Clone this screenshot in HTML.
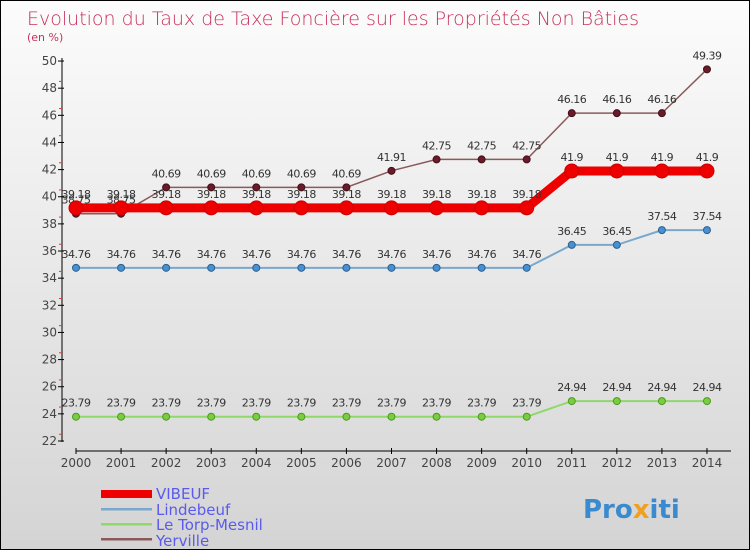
<!DOCTYPE html>
<html><head><meta charset="utf-8"><style>
body{margin:0}
#c{width:748px;height:548px;border:1px solid #000;background:linear-gradient(#fcfcfc,#d4d4d4);position:relative;font-family:"DejaVu Sans","Liberation Sans",sans-serif;overflow:hidden}
</style></head><body>
<div id="c">
<svg id="s" width="748" height="548">
<text x="26" y="24" font-size="19" fill="#c8305a" font-weight="300">Evolution du Taux de Taxe Foncière sur les Propriétés Non Bâties</text>
<text x="26" y="40" font-size="11" fill="#c8305a">(en %)</text>
<g id="axes"></g><g id="marks"></g>
<g>
<rect x="100" y="489" width="51" height="8" fill="#e00"/>
<text x="155" y="498" font-size="15" fill="#5a5aee">VIBEUF</text>
<rect x="100" y="507" width="51" height="2.5" fill="#7aa8cc"/>
<text x="155" y="514" font-size="15" fill="#5a5aee">Lindebeuf</text>
<rect x="100" y="522" width="51" height="2.5" fill="#8fd86a"/>
<text x="155" y="529" font-size="15" fill="#5a5aee">Le Torp-Mesnil</text>
<rect x="100" y="537" width="51" height="2.5" fill="#8a5a5a"/>
<text x="155" y="545" font-size="15" fill="#5a5aee">Yerville</text>
</g>
<text x="582" y="517" font-size="26" font-weight="bold" fill="#3a8ad0">Pro<tspan fill="#f0a020">x</tspan>iti</text>
</svg></div>
<script>
const years=["2000","2001","2002","2003","2004","2005","2006","2007","2008","2009","2010","2011","2012","2013","2014"];
const yTicks=[22,24,26,28,30,32,34,36,38,40,42,44,46,48,50];
const vibeuf=[39.18,39.18,39.18,39.18,39.18,39.18,39.18,39.18,39.18,39.18,39.18,41.9,41.9,41.9,41.9];
const lindebeuf=[34.76,34.76,34.76,34.76,34.76,34.76,34.76,34.76,34.76,34.76,34.76,36.45,36.45,37.54,37.54];
const torp=[23.79,23.79,23.79,23.79,23.79,23.79,23.79,23.79,23.79,23.79,23.79,24.94,24.94,24.94,24.94];
const yerville=[38.75,38.75,40.69,40.69,40.69,40.69,40.69,41.91,42.75,42.75,42.75,46.16,46.16,46.16,49.39];
const NS="http://www.w3.org/2000/svg";
const X=i=>75+i*45.07, Y=v=>440-(v-22)*13.57;
function mk(t,a,p){const e=document.createElementNS(NS,t);for(const k in a)e.setAttribute(k,a[k]);p.appendChild(e);return e;}
const ax=document.getElementById('axes'),mg=document.getElementById('marks');
mk('line',{x1:61,y1:57,x2:61,y2:441,stroke:'#000'},ax);
mk('line',{x1:75,y1:450,x2:730,y2:450,stroke:'#000'},ax);
yTicks.forEach(v=>{const y=Y(v);
mk('line',{x1:57,y1:y,x2:63,y2:y,stroke:'#000'},ax);
if(v<50)mk('line',{x1:58,y1:y-6.8,x2:61,y2:y-6.8,stroke:'#e33'},ax);
const t=mk('text',{x:56,y:y+4,'font-size':12,'text-anchor':'end',fill:'#444'},ax);t.textContent=v;
});
years.forEach((yr,i)=>{const x=X(i);
mk('line',{x1:x,y1:447,x2:x,y2:453,stroke:'#000'},ax);
const t=mk('text',{x:x,y:466,'font-size':12,'text-anchor':'middle',fill:'#444'},ax);t.textContent=yr;
});
function series(d,name,col,w,r,fill,stroke){
const g=mk('g',{},mg);

mk('polyline',{points:d.map((v,i)=>X(i)+','+Y(v)).join(' '),fill:'none',stroke:col,'stroke-width':w},g);
d.forEach((v,i)=>{const c=mk('circle',{cx:X(i),cy:Y(v),r:r,fill:fill,stroke:stroke},g);

const t=mk('text',{x:X(i),y:Y(v)-10,'font-size':11,'text-anchor':'middle',fill:'#333','letter-spacing':'-0.5'},g);t.textContent=v;
});}
series(torp,'le-torp-mesnil','#8fd86a',2,3.5,'#7acc40','#4a9a20');
series(lindebeuf,'lindebeuf','#7aa8cc',2,3.5,'#4a90d0','#2a6090');
series(yerville,'yerville','#8a5a5a',1.5,3.5,'#6a1a2a','#401018');
series(vibeuf,'vibeuf','#e00',9,7,'#e00','#c00');
</script></body></html>
